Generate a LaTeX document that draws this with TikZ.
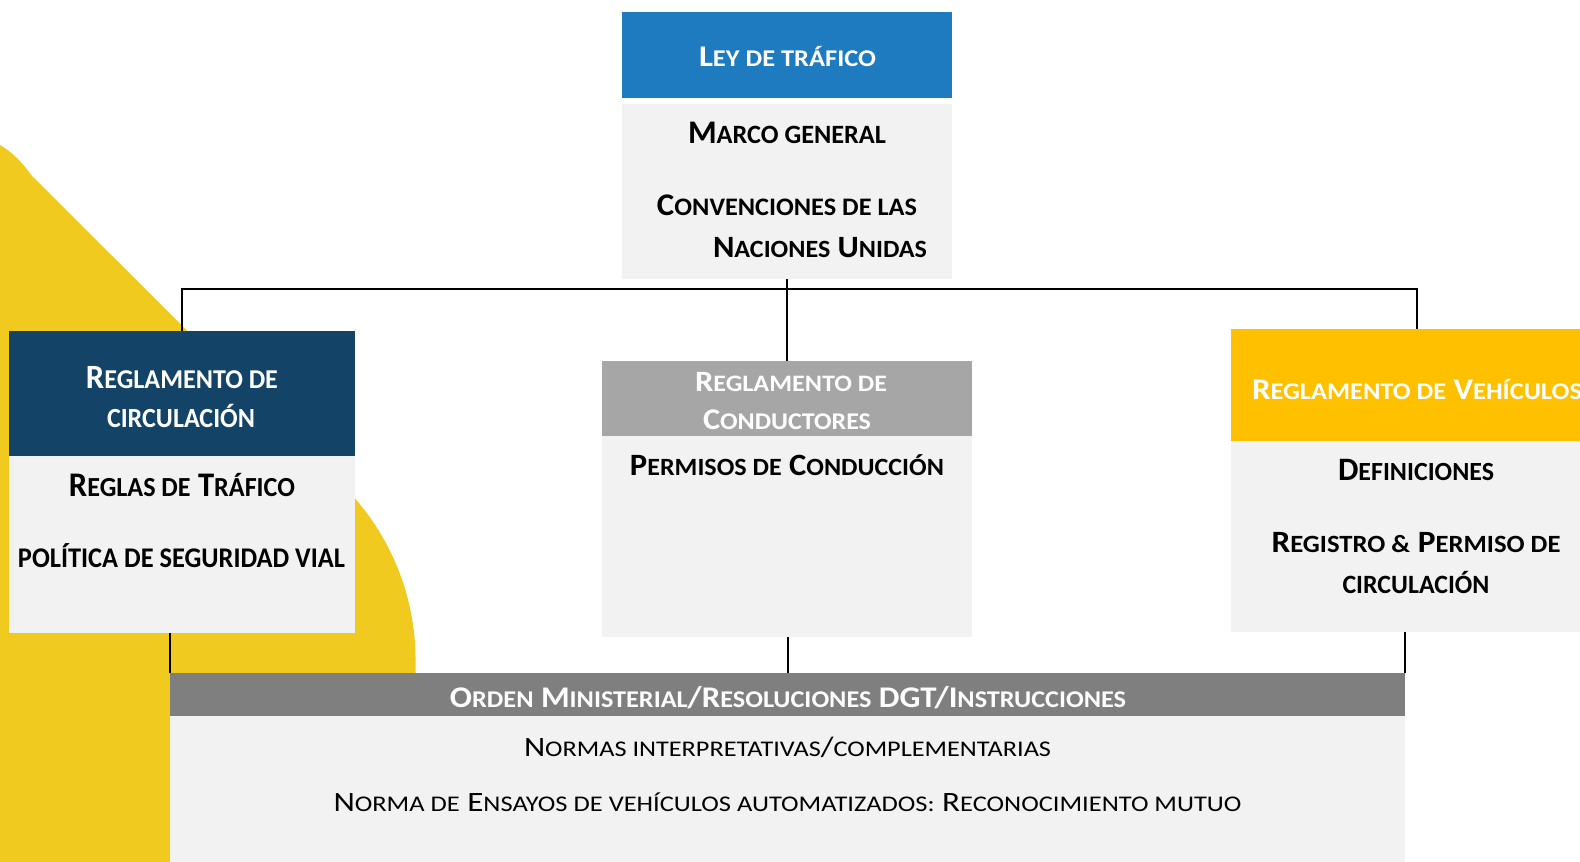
\documentclass[tikz,border=0pt]{standalone}
\usepackage{fontspec}
\usepackage{graphicx}
\setmainfont{Carlito}
\definecolor{blob}{HTML}{F1CA1F}
\definecolor{leyblue}{HTML}{1E7BC0}
\definecolor{navy}{HTML}{134467}
\definecolor{midgray}{HTML}{A6A6A6}
\definecolor{gold}{HTML}{FFC000}
\definecolor{bandgray}{HTML}{7F7F7F}
\definecolor{light}{HTML}{F2F2F2}
\newcommand\SC[1]{\scalebox{0.8}{#1}}
\newcommand\fitw[3]{\resizebox{#1pt}{\height}{\fontsize{#2}{#2}\selectfont #3}}
\tikzset{
  box/.style={inner sep=0, outer sep=0, anchor=north west, draw=none},
  txt/.style={inner sep=0, outer sep=0, anchor=base, font=\bfseries, text=black},
  wtxt/.style={txt, text=white},
  conn/.style={draw=black, line width=2pt},
}
\begin{document}
\begin{tikzpicture}[x=1pt,y=-1pt]
\useasboundingbox (0,0) rectangle (1580,862);
% yellow background shape
\fill[blob] (0,145) .. controls (12,152) and (22,162) .. (32,176) -- (351,494) arc[start angle=-42.5, end angle=0, radius=245.6] -- (416,862) -- (0,862) -- cycle;

% boxes
\node[box, fill=leyblue, minimum width=330, minimum height=86] (leyhead) at (622,12) {};
\node[box, fill=light, minimum width=330, minimum height=175] (leybody) at (622,104) {};
\node[box, fill=navy, minimum width=346, minimum height=125] (lefthead) at (9,331) {};
\node[box, fill=light, minimum width=346, minimum height=177] (leftbody) at (9,456) {};
\node[box, fill=midgray, minimum width=370, minimum height=75] (midhead) at (602,361) {};
\node[box, fill=light, minimum width=370, minimum height=201] (midbody) at (602,436) {};
\node[box, fill=gold, minimum width=372, minimum height=112] (righthead) at (1231,329) {};
\node[box, fill=light, minimum width=372, minimum height=191] (rightbody) at (1231,441) {};
\node[box, fill=bandgray, minimum width=1235, minimum height=43] (band) at (170,673) {};
\node[box, fill=light, minimum width=1235, minimum height=150] (bandbody) at (170,716) {};

% connectors
\draw[conn] (leybody.south) -- (leybody.south |- midhead.north);
\draw[conn] (lefthead.north) -- ++(0,-42) -| (righthead.north);
\draw[conn] (band.north west) -- (band.north west |- leftbody.south);
\draw[conn] (band.north) -- (band.north |- midbody.south);
\draw[conn] (band.north east) -- (band.north east |- rightbody.south);

% texts: top
\node[wtxt] (t1) at (787.5,66) {\fitw{177}{30}{L\SC{EY DE TRÁFICO}}};
\node[txt] (t2) at (787,143) {\fitw{198}{33}{M\SC{ARCO GENERAL}}};
\node[txt] (t3) at (787,215) {\fitw{260}{31.5}{C\SC{ONVENCIONES DE LAS}}};
\node[txt] (t4) at (820,257) {\fitw{214}{31}{N\SC{ACIONES} U\SC{NIDAS}}};

% left
\node[wtxt] (t5) at (182,388) {\fitw{192}{34}{R\SC{EGLAMENTO DE}}};
\node[wtxt] (t6) at (181,427) {\fitw{148}{34.6}{\SC{CIRCULACIÓN}}};
\node[txt] (t7) at (182,496) {\fitw{226}{34.5}{R\SC{EGLAS DE} T\SC{RÁFICO}}};
\node[txt] (t8) at (181.5,567) {\fitw{327}{35.6}{\SC{POLÍTICA DE SEGURIDAD VIAL}}};

% middle
\node[wtxt] (t9) at (791,391) {\fitw{192}{29.5}{R\SC{EGLAMENTO DE}}};
\node[wtxt] (t10) at (787,429) {\fitw{168}{30}{C\SC{ONDUCTORES}}};
\node[txt] (t11) at (787,475) {\fitw{314}{31}{P\SC{ERMISOS DE} C\SC{ONDUCCIÓN}}};

% right
\node[wtxt, anchor=base west] (t12) at (1252,399) {\fitw{330}{30}{R\SC{EGLAMENTO DE} V\SC{EHÍCULOS}}};
\node[txt] (t13) at (1416,480) {\fitw{156}{32.7}{D\SC{EFINICIONES}}};
\node[txt] (t14) at (1416,552) {\fitw{289}{31}{R\SC{EGISTRO \&} P\SC{ERMISO DE}}};
\node[txt] (t15) at (1416,593) {\fitw{147}{33}{\SC{CIRCULACIÓN}}};

% bottom
\node[wtxt] (t16) at (788,707) {\fitw{676}{30}{O\SC{RDEN} M\SC{INISTERIAL}/R\SC{ESOLUCIONES} DGT/I\SC{NSTRUCCIONES}}};
\node[txt, font=\mdseries] (t17) at (787.5,756) {\fitw{527}{28}{N\SC{ORMAS INTERPRETATIVAS}/\SC{COMPLEMENTARIAS}}};
\node[txt, font=\mdseries] (t18) at (787.5,811) {\fitw{908}{28}{N\SC{ORMA DE} E\SC{NSAYOS DE VEHÍCULOS AUTOMATIZADOS:} R\SC{ECONOCIMIENTO MUTUO}}};
\end{tikzpicture}
\end{document}
